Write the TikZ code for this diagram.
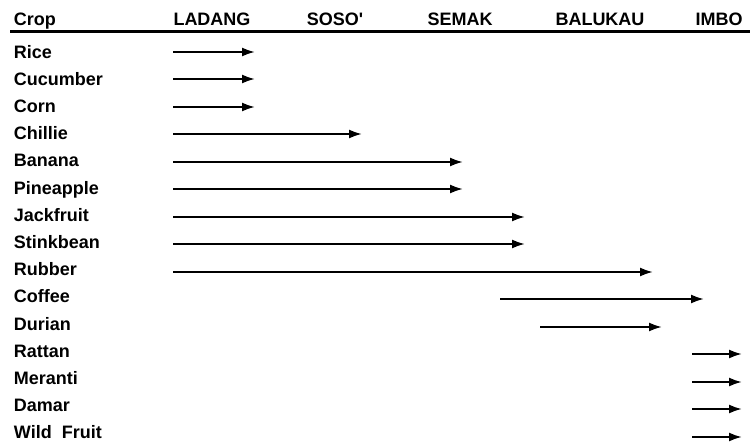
\documentclass[tikz,border=0pt]{standalone}
\usepackage{fontspec}
\setmainfont{Liberation Sans}
\usetikzlibrary{arrows.meta}

\tikzset{
  croplabel/.style={anchor=base west, inner sep=0.75pt, font=\bfseries\fontsize{18}{20}\selectfont},
  zonelabel/.style={anchor=base, inner sep=0.75pt, font=\bfseries\fontsize{18}{20}\selectfont},
  spanarrow/.style={line width=2pt, -{Latex[length=13pt,width=9pt]}}
}

\begin{document}
\begin{tikzpicture}[x=1pt,y=-1pt]
  \useasboundingbox (0,0) rectangle (750,445);

  % Header row
  \node[croplabel] (crop) at (13,25) {Crop};
  \node[zonelabel] (ladang) at (212,25) {LADANG};
  \node[zonelabel] (soso) at (335,25) {SOSO\textquotesingle};
  \node[zonelabel] (semak) at (460,25) {SEMAK};
  \node[zonelabel] (balukau) at (600,25) {BALUKAU};
  \node[zonelabel] (imbo) at (719,25) {IMBO};
  % Rule under header
  \draw[line width=3pt] (10,31.5) -- (750,31.5);

  % Crop rows: name/label/start/end
  \foreach \name/\txt/\from/\to [count=\i from 0] in {
      rice/Rice/173/255,
      cucumber/Cucumber/173/255,
      corn/Corn/173/255,
      chillie/Chillie/173/362,
      banana/Banana/173/463,
      pineapple/Pineapple/173/463,
      jackfruit/Jackfruit/173/525,
      stinkbean/Stinkbean/173/525,
      rubber/Rubber/173/653,
      coffee/Coffee/500/704,
      durian/Durian/540/662,
      rattan/Rattan/692/742,
      meranti/Meranti/692/742,
      damar/Damar/692/742,
      wildfruit/Wild\ \ Fruit/692/742} {
    \pgfmathtruncatemacro{\ya}{52+27.5*\i}
    \node[croplabel] (\name) at (13,58+27.2*\i) {\txt};
    \coordinate (\name-s) at (\from,\ya);
    \coordinate (\name-e) at (\to,\ya);
    \draw[spanarrow] (\name-s) -- (\name-e);
  }
\end{tikzpicture}
\end{document}
